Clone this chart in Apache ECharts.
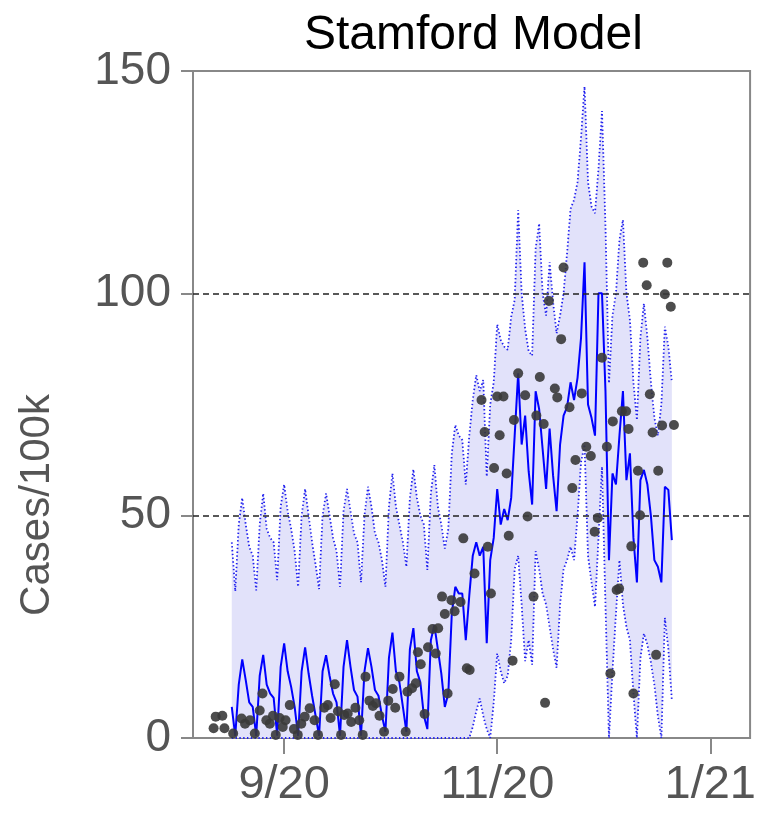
<!DOCTYPE html>
<html>
<head>
<meta charset="utf-8">
<title>Stamford Model</title>
<script src="https://cdn.jsdelivr.net/npm/echarts@6/dist/echarts.min.js"></script>
<style>
  html, body { margin: 0; padding: 0; background: #fff; }
  #chart { width: 759px; height: 815px; }
</style>
</head>
<body>
<div id="chart"></div>
<script>
/* -------------------------------------------------------------------------- */
/*                            Stamford model data                             */
/* -------------------------------------------------------------------------- */

// model series are daily, first value on startDate
const startDate = '2020-08-17';
const tickDates = ['2020-09-01', '2020-11-01', '2021-01-01'];
const tickLabels = ['9/20', '11/20', '1/21'];
const refLines = [50, 100];

const median = [
  7, 0.5, 12, 17.7, 13, 8, 7,
  0.5, 14, 18.7, 12, 10, 9,
  0.5, 16, 21.3, 15, 11.5, 7,
  0.5, 15, 20.4, 14.5, 9.5, 5,
  0.5, 15, 18.6, 14, 10, 8,
  0.5, 16, 22, 16, 10.8, 9.3,
  0.5, 15, 20.2, 16, 10.8, 9.5, 5,
  1.4, 18, 23.7, 15, 12.5, 7,
  1.4, 20, 24.7, 15, 12.5, 5,
  2, 22, 25.4, 20, 14.5, 7,
  10, 28, 34, 32.5, 32.5, 22,
  32, 41, 44, 41, 43, 21.3,
  40, 45, 56, 48, 51.5, 49,
  54, 68, 82, 66, 72.5, 60,
  52.5, 78, 74, 65, 56, 69.6,
  59, 51, 66, 72.5, 74.4, 80,
  76, 81, 90, 107, 75, 72,
  68, 100, 100, 78, 40, 59.5,
  57, 68, 78, 58, 64, 45,
  35, 58, 60.3, 57, 50, 40,
  38.5, 35, 56.5, 55.8, 44.5
];

const upper = [
  44, 33, 48, 54, 48, 43, 41,
  33.2, 48, 55, 47, 45, 44,
  35.5, 52, 57, 51, 47, 42,
  34, 50, 56, 50, 44, 39,
  33.5, 50, 55, 50, 45, 42,
  34, 51, 56, 51, 46, 44,
  35, 50, 56.5, 52, 46, 44, 40,
  34, 52, 59.5, 52, 48, 44,
  38.5, 54, 60.4, 54, 50, 48,
  37.8, 55, 61.4, 52, 48, 42.6,
  47, 64, 70.4, 68, 67, 57,
  68, 76, 81.6, 78, 80.5, 58.8,
  75, 80, 93, 89.5, 88, 87.3,
  94.7, 98.5, 118.7, 100, 92, 87,
  86, 110, 115.7, 100, 95, 107,
  98, 91, 95, 100, 109, 119,
  121, 125, 135, 146.5, 125, 119.5,
  118, 128, 141, 115, 79.8, 95,
  100, 112, 116.5, 100, 94, 80,
  71.5, 90, 97.7, 90, 80, 72,
  68, 75, 92.5, 88, 80
];

const lower = [
  0, 0, 0, 0, 0, 0, 0, 0, 0, 0, 0, 0, 0, 0, 0, 0, 0, 0, 0, 0,
  0, 0, 0, 0, 0, 0, 0, 0, 0, 0, 0, 0, 0, 0, 0, 0, 0, 0, 0, 0,
  0, 0, 0, 0, 0, 0, 0, 0, 0, 0, 0, 0, 0, 0, 0, 0, 0, 0, 0, 0,
  0, 0, 0, 0, 0, 0, 0, 0,
  0, 2.5, 6, 8.9, 5, 2,
  0, 8, 19, 15, 12.3, 14,
  22, 38, 41, 30, 17.3, 22,
  16.5, 42, 38, 32.5, 30, 25,
  20, 15.8, 30, 38, 40, 43,
  40, 50, 62, 66, 41, 35,
  29.5, 45, 61, 30, 0, 15,
  28, 40, 30, 25, 22, 10,
  0, 18, 23.5, 21, 17, 12,
  5, 0, 27, 20, 8.5
];

// observed cases: day offset from startDate, value
const obsDays = [
  -5.2, -4.6, -2.7, -2.1, 0.4, 2.8, 3.8, 5.2, 6.6, 8.0, 8.8, 9.9, 10.9, 11.8,
  12.6, 13.7, 14.6, 15.4, 16.6, 17.8, 18.9, 19.9, 20.9, 22.3, 23.7, 24.7, 26.5,
  27.5, 28.3, 29.5, 30.4, 31.3, 32.2, 33.2, 34.2, 35.4, 36.5, 37.5, 38.3, 39.4,
  40.4, 41.3, 42.3, 43.6, 44.8, 46.1, 46.8, 48.0, 49.8, 50.3, 51.6, 52.7, 53.3,
  54.1, 55.2, 56.2, 57.5, 58.4, 59.1, 60.2, 61.0, 61.8, 62.9, 63.8, 65.5, 66.3,
  67.3, 68.1, 69.5, 71.5, 72.4, 73.3, 74.2, 75.1, 76.0, 76.7, 77.8, 78.7, 79.3,
  80.4, 80.8, 82.0, 84.0, 84.7, 86.4, 87.2, 88.2, 89.3, 89.7, 90.8, 92.5, 93.2,
  94.3, 95.0, 96.7, 97.5, 98.4, 100.2, 101.5, 102.8, 103.9, 104.8, 106.0, 107.4,
  108.4, 109.1, 110.2, 110.9, 111.7, 112.9, 113.6, 114.4, 115.0, 116.3, 116.9,
  117.8, 118.8, 119.7, 120.5, 121.5, 122.1, 123.2, 124.0, 124.7, 125.7, 126.6
];

const obsValues = [
  2.2, 4.8, 5.0, 2.2, 1.0, 4.4, 3.2, 4.0, 1.0, 6.2, 10.0, 4.0, 3.2, 5.0,
  0.7, 4.5, 2.5, 4.0, 7.4, 2.0, 0.7, 3.2, 4.8, 6.7, 4.0, 0.7, 6.8,
  7.4, 4.5, 12.1, 6.0, 0.7, 5.2, 5.5, 3.6, 6.8, 4.0, 0.7, 13.8, 8.4,
  7.2, 7.8, 5.0, 1.4, 8.4, 11.0, 6.8, 13.8, 1.4, 10.4, 11.2, 12.3, 19.3,
  16.6, 5.4, 20.4, 24.5, 19.0, 24.7, 31.8, 27.9, 10.0, 31.0, 28.5, 30.6, 44.9,
  15.7, 15.3, 37.0, 76.0, 68.8, 43.0, 32.5, 60.7, 76.8, 68.1, 76.8, 59.5, 45.5,
  17.4, 71.5, 82.0, 77.1, 49.8, 31.8, 72.5, 81.2, 70.6, 7.9, 98.3, 78.6, 76.6,
  89.7, 105.8, 74.4, 56.2, 62.5, 77.5, 65.5, 63.4, 46.4, 49.5, 85.5, 65.5,
  14.5, 71.2, 33.3, 33.6, 73.5, 73.5, 69.5, 43.1, 10.0, 60.1, 50.1,
  106.9, 101.8, 77.3, 68.7, 18.7, 60.1, 70.3, 99.8, 106.9, 97.0, 70.4
];

/* -------------------------------------------------------------------------- */

const FONT = '"Liberation Sans", Arial, Helvetica, sans-serif';
const DAY = 24 * 3600 * 1000;
const t0 = Date.parse(startDate);
// x axis runs in days since startDate
const tickDays = tickDates.map(d => Math.round((Date.parse(d) - t0) / DAY));

// band between lower and upper, drawn as one polygon through the axes
const renderBand = (params, api) => {
  if (params.dataIndex !== 0) return null;
  const top = upper.map((v, i) => api.coord([i, v]));
  const bottom = lower.map((v, i) => api.coord([i, v])).reverse();
  return {
    type: 'polygon',
    shape: { points: top.concat(bottom) },
    style: { fill: '#e2e2fa' },
    silent: true
  };
};

const stamfordChartInit = () => {
  const $chart = document.getElementById('chart');
  const chart = echarts.init($chart, null, { renderer: 'canvas' });

  const band = upper.map((v, i) => [i, lower[i], v]);
  const dots = obsDays.map((d, i) => [d, obsValues[i]]);

  const dotted = { color: '#2020ee', width: 1.8, type: [1.4, 2.4] };

  chart.setOption({
    animation: false,
    title: {
      text: 'Stamford Model',
      left: 299,
      top: 7,
      textStyle: {
        fontFamily: FONT,
        fontSize: 48,
        fontWeight: 'normal',
        color: '#000'
      }
    },
    graphic: [
      {
        type: 'text',
        x: 37,
        y: 505,
        rotation: Math.PI / 2,
        style: {
          text: 'Cases/100k',
          fontFamily: FONT,
          fontSize: 42,
          fill: '#555',
          align: 'center',
          verticalAlign: 'middle'
        }
      }
    ],
    grid: {
      left: 193,
      right: 7,
      top: 71,
      bottom: 77,
      show: true,
      borderColor: '#888',
      borderWidth: 2
    },
    xAxis: {
      type: 'value',
      min: -11.1,
      max: 148.4,
      axisLine: { show: true, onZero: false, lineStyle: { color: '#888', width: 2 } },
      axisTick: {
        show: true,
        length: 16,
        lineStyle: { color: '#888', width: 2 },
        customValues: tickDays
      },
      axisLabel: {
        customValues: tickDays,
        formatter: value => tickLabels[tickDays.indexOf(Math.round(value))] || '',
        margin: 24,
        color: '#555',
        fontFamily: FONT,
        fontSize: 47
      },
      splitLine: { show: false }
    },
    yAxis: {
      type: 'value',
      min: 0,
      max: 150,
      interval: 50,
      axisLine: { show: true, onZero: false, lineStyle: { color: '#888', width: 2 } },
      axisTick: { show: true, length: 12, lineStyle: { color: '#888', width: 2 } },
      axisLabel: {
        margin: 22,
        color: '#555',
        fontFamily: FONT,
        fontSize: 46
      },
      splitLine: { show: false }
    },
    series: [
      {
        name: 'band',
        type: 'custom',
        data: band,
        encode: { x: 0, y: [1, 2] },
        renderItem: renderBand,
        silent: true,
        z: 1,
        markLine: {
          silent: true,
          symbol: 'none',
          label: { show: false },
          lineStyle: { color: '#222', width: 1.6, type: [6, 4] },
          data: refLines.map(v => ({ yAxis: v }))
        }
      },
      {
        name: 'upper',
        type: 'line',
        data: upper.map((v, i) => [i, v]),
        symbol: 'none',
        lineStyle: dotted,
        z: 3
      },
      {
        name: 'lower',
        type: 'line',
        data: lower.map((v, i) => [i, v]),
        symbol: 'none',
        lineStyle: dotted,
        z: 3
      },
      {
        name: 'median',
        type: 'line',
        data: median.map((v, i) => [i, v]),
        symbol: 'none',
        lineStyle: { color: '#0000ff', width: 2 },
        z: 4
      },
      {
        name: 'observed',
        type: 'scatter',
        data: dots,
        symbolSize: 10,
        itemStyle: { color: '#3a3a3a', opacity: 0.9 },
        z: 5
      }
    ]
  });
};

stamfordChartInit();
</script>
</body>
</html>
